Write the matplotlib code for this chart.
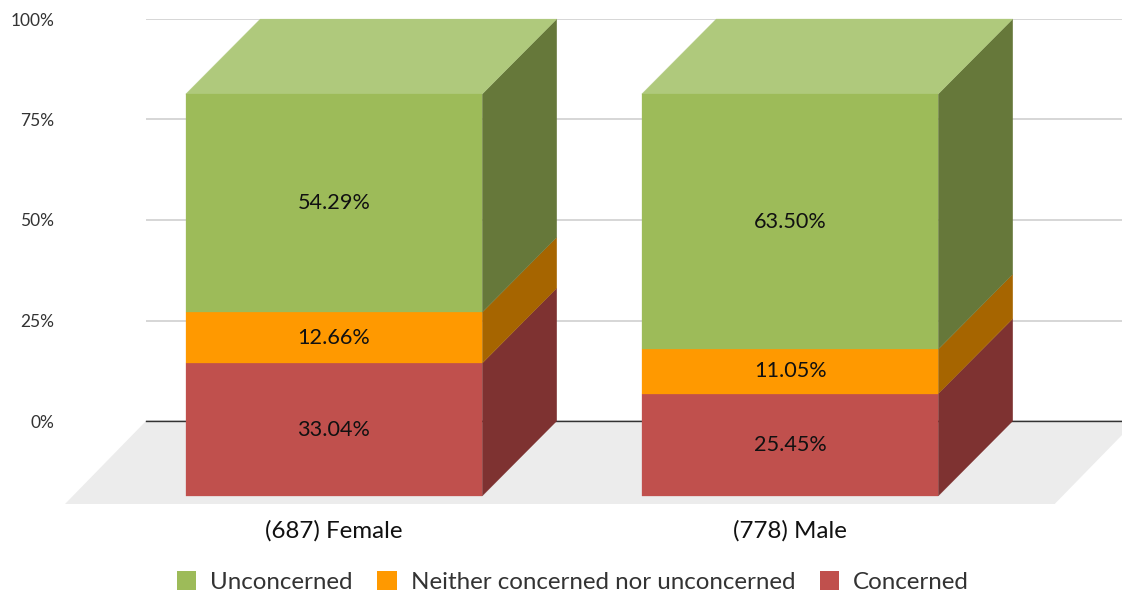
import matplotlib

matplotlib.use("Agg")
import matplotlib.pyplot as plt
import numpy as np
from matplotlib.patches import Patch, Polygon

categories = ["(687) Female", "(778) Male"]
series_names = ["Concerned", "Neither concerned nor unconcerned", "Unconcerned"]
concerned = [33.04, 25.45]
neither = [12.66, 11.05]
unconcerned = [54.29, 63.50]
yticks = [0, 25, 50, 75, 100]

front_colors = ["#c0504d", "#ff9900", "#9dbb59"]
side_colors = ["#7e3231", "#a66500", "#66783a"]
top_color = "#afc97c"

W, H = 1122, 594
PX_X = 456.0  # pixels between the two categories
PX_Y = 4.02  # pixels per percent
bar_w = 296.5 / PX_X
depth_x = 74.5 / PX_X
depth_y = 75.0 / PX_Y

plt.rcParams["font.family"] = ["Lato", "DejaVu Sans"]

fig = plt.figure(figsize=(W / 100, H / 100), dpi=100)
ax = fig.add_axes([146 / W, (H - 421) / H, 976 / W, 402 / H])
ax.set_xlim((146 - 408.5) / PX_X, (1122 - 408.5) / PX_X)
ax.set_ylim(0, 100)
ax.patch.set_visible(False)

for name, spine in ax.spines.items():
    spine.set_visible(name == "bottom")
ax.spines["bottom"].set_color("#333333")
ax.spines["bottom"].set_linewidth(1.0)
ax.set_axisbelow(True)
ax.grid(axis="y", color="#cccccc", linewidth=1.1)
ax.grid(axis="x", visible=False)

ax.set_yticks(yticks)
ax.set_yticklabels([f"{t}%" for t in yticks], fontsize=12.5, color="#333333")
ax.tick_params(axis="y", length=0, pad=66)

xpos = np.arange(len(categories))
ax.set_xticks(xpos - depth_x)
ax.set_xticklabels(categories, fontsize=17.4, color="#111111")
ax.tick_params(axis="x", length=0, pad=71)


def face(points, color, z=3):
    # thin edge in the same colour hides the antialiasing seam between faces
    ax.add_patch(
        Polygon(
            points,
            facecolor=color,
            edgecolor=color,
            linewidth=0.2,
            zorder=z,
            clip_on=False,
        )
    )


# floor, runs off the right edge of the figure like the original
x0, x1 = ax.get_xlim()
floor_x = 81 / PX_X
floor_y = 83 / PX_Y
ax.add_patch(
    Polygon(
        [(x0, 0), (x1 + 0.03, 0), (x1 + 0.03 - floor_x, -floor_y), (x0 - floor_x, -floor_y)],
        facecolor="#ececec",
        edgecolor="none",
        zorder=0.1,
        clip_on=False,
    )
)

values = np.array([concerned, neither, unconcerned])
bottoms = np.vstack([np.zeros(len(categories)), np.cumsum(values, axis=0)[:-1]])

for i, x in enumerate(xpos):
    left = x - bar_w / 2
    right = x + bar_w / 2
    for s in range(len(series_names)):
        lo = bottoms[s, i]
        hi = lo + values[s, i]
        face(
            [
                (right - depth_x, lo - depth_y),
                (right, lo),
                (right, hi),
                (right - depth_x, hi - depth_y),
            ],
            side_colors[s],
        )
        face(
            [
                (left - depth_x, lo - depth_y),
                (right - depth_x, lo - depth_y),
                (right - depth_x, hi - depth_y),
                (left - depth_x, hi - depth_y),
            ],
            front_colors[s],
            z=3.1,
        )
        ax.text(
            x - depth_x,
            (lo + hi) / 2 - depth_y,
            f"{values[s, i]:.2f}%",
            ha="center",
            va="center",
            fontsize=15.6,
            color="#111111",
            zorder=4,
        )
    total = bottoms[-1, i] + values[-1, i]
    face(
        [
            (left - depth_x, total - depth_y),
            (right - depth_x, total - depth_y),
            (right, total),
            (left, total),
        ],
        top_color,
    )

handles = [Patch(facecolor=front_colors[s], label=series_names[s]) for s in [2, 1, 0]]
fig.legend(
    handles=handles,
    ncol=3,
    loc="center",
    bbox_to_anchor=(573 / W, (H - 582) / H),
    frameon=False,
    fontsize=17.4,
    labelcolor="#333333",
    handlelength=0.8,
    handleheight=0.85,
    handletextpad=0.58,
    columnspacing=1.015,
    borderpad=0,
    borderaxespad=0,
)

fig.savefig("out.png", dpi=100)
